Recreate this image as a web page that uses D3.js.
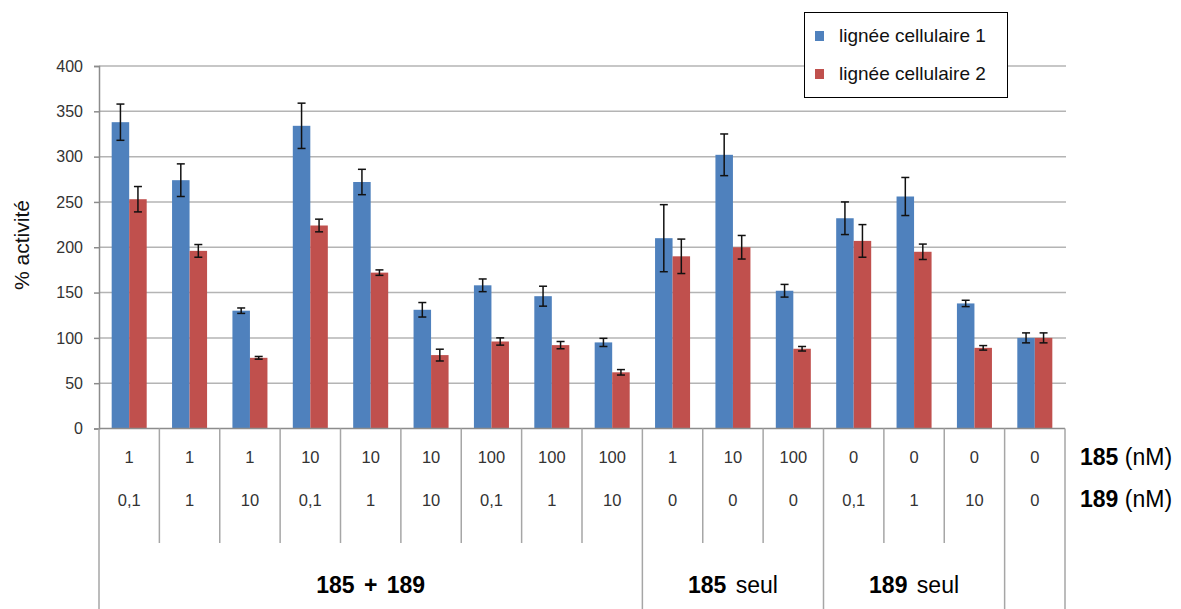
<!DOCTYPE html>
<html>
<head>
<meta charset="utf-8">
<script src="https://cdn.jsdelivr.net/npm/d3@7"></script>
<style>
  body { margin: 0; background: #fff; }
  svg { display: block; font-family: "Liberation Sans", Arial, sans-serif; }
</style>
</head>
<body>
<div id="graph"></div>
<script>
"use strict";

const width = 1181,
      height = 609;

// data
const conc185 = ["1", "1", "1", "10", "10", "10", "100", "100", "100", "1", "10", "100", "0", "0", "0", "0"];
const conc189 = ["0,1", "1", "10", "0,1", "1", "10", "0,1", "1", "10", "0", "0", "0", "0,1", "1", "10", "0"];
const cell1 = [338, 274, 130, 334, 272, 131, 158, 146, 95, 210, 302, 152, 232, 256, 138, 100];
const cell1Err = [20, 18, 3, 25, 14, 8, 7, 11, 4.5, 37, 23, 7, 18, 21, 3.5, 5.5];
const cell2 = [253, 196, 78, 224, 172, 81, 96, 92, 62, 190, 200, 88, 207, 195, 89, 100];
const cell2Err = [14, 7, 1.5, 7, 3, 6.5, 4, 4, 3, 19, 13, 2.5, 18, 8.5, 2.5, 5.5];
const seriesNames = ["lignée cellulaire 1", "lignée cellulaire 2"];
const groupBold = ["185 + 189", "185", "189", ""];
const groupRest = ["", " seul", " seul", ""];
const groupSpans = [9, 3, 3, 1];
const yTicks = [0, 50, 100, 150, 200, 250, 300, 350, 400];

const colors = ["#4F81BD", "#C0504D"];
const gridColor = "#b4b4b4";
const lineColor = "#a6a6a6";

const svg = d3.select("#graph")
    .append("svg")
    .attr("width", width)
    .attr("height", height);

const plotLeft = 99, plotRight = 1065, plotTop = 66, zero = 428.5;

const x0 = d3.scaleBand()
    .domain(d3.range(conc185.length))
    .range([plotLeft, plotRight])
    .paddingInner(0.42)
    .paddingOuter(0.21);

const x1 = d3.scaleBand()
    .domain([0, 1])
    .range([0, x0.bandwidth()]);

const y = d3.scaleLinear()
    .domain([0, 400])
    .range([zero, plotTop]);

// gridlines
svg.append("g")
    .selectAll("line")
    .data(yTicks.filter(d => d > 0))
    .enter()
    .append("line")
    .attr("x1", plotLeft)
    .attr("x2", plotRight + 1)
    .attr("y1", d => y(d))
    .attr("y2", d => y(d))
    .attr("stroke", gridColor)
    .attr("stroke-width", 1.5);

// y axis
const yAxis = svg.append("g")
    .attr("transform", "translate(" + plotLeft + ",0)")
    .call(d3.axisLeft(y).tickValues(yTicks).tickSize(5).tickPadding(11));
yAxis.select(".domain").attr("stroke", "#8c8c8c").attr("stroke-width", 1.5);
yAxis.selectAll(".tick line").attr("stroke", "#8c8c8c").attr("stroke-width", 1.5);
yAxis.selectAll(".tick text")
    .attr("font-size", 16)
    .attr("fill", "#333")
    .attr("font-family", "Liberation Sans, Arial, sans-serif");

svg.append("text")
    .attr("transform", "translate(29,245) rotate(-90)")
    .attr("text-anchor", "middle")
    .attr("font-size", 21)
    .attr("fill", "#111")
    .text("% activité");

// bars
const series = [
    { vals: cell1, errs: cell1Err },
    { vals: cell2, errs: cell2Err }
];

series.forEach(function (s, k) {
    const g = svg.append("g");
    g.selectAll("rect")
        .data(s.vals)
        .enter()
        .append("rect")
        .attr("x", (d, i) => x0(i) + x1(k))
        .attr("y", d => y(d))
        .attr("width", x1.bandwidth())
        .attr("height", d => y(0) - y(d))
        .attr("fill", colors[k]);

    const eb = svg.append("g")
        .attr("stroke", "#111")
        .attr("stroke-width", 1.5);
    s.vals.forEach(function (v, i) {
        const cx = x0(i) + x1(k) + x1.bandwidth() / 2;
        const e = s.errs[i];
        eb.append("line")
            .attr("x1", cx).attr("x2", cx)
            .attr("y1", y(v + e)).attr("y2", y(v - e));
        eb.append("line")
            .attr("x1", cx - 4).attr("x2", cx + 4)
            .attr("y1", y(v + e)).attr("y2", y(v + e));
        eb.append("line")
            .attr("x1", cx - 4).attr("x2", cx + 4)
            .attr("y1", y(v - e)).attr("y2", y(v - e));
    });
});

// category table
const step = x0.step();
const table = svg.append("g");

table.append("line")
    .attr("x1", plotLeft).attr("x2", plotRight)
    .attr("y1", zero).attr("y2", zero)
    .attr("stroke", "#8c8c8c")
    .attr("stroke-width", 1.5);

// group boundaries
let groupEdges = [0];
groupSpans.forEach(function (n) { groupEdges.push(groupEdges[groupEdges.length - 1] + n); });

d3.range(conc185.length + 1).forEach(function (i) {
    const isGroup = groupEdges.indexOf(i) >= 0;
    table.append("line")
        .attr("x1", plotLeft + i * step)
        .attr("x2", plotLeft + i * step)
        .attr("y1", zero)
        .attr("y2", isGroup ? height : 543)
        .attr("stroke", lineColor)
        .attr("stroke-width", 1.5);
});

table.selectAll(".r185")
    .data(conc185)
    .enter()
    .append("text")
    .attr("x", (d, i) => x0(i) + x0.bandwidth() / 2)
    .attr("y", 463)
    .attr("text-anchor", "middle")
    .attr("font-size", 16.5)
    .attr("fill", "#333")
    .text(d => d);

table.selectAll(".r189")
    .data(conc189)
    .enter()
    .append("text")
    .attr("x", (d, i) => x0(i) + x0.bandwidth() / 2)
    .attr("y", 506)
    .attr("text-anchor", "middle")
    .attr("font-size", 16.5)
    .attr("fill", "#333")
    .text(d => d);

groupBold.forEach(function (b, j) {
    const cx = plotLeft + (groupEdges[j] + groupEdges[j + 1]) / 2 * step;
    const t = table.append("text")
        .attr("x", cx)
        .attr("y", 593)
        .attr("text-anchor", "middle")
        .attr("font-size", 23)
        .attr("word-spacing", 3)
        .attr("fill", "#000");
    t.append("tspan").attr("font-weight", "bold").text(b);
    t.append("tspan").text(groupRest[j]);
});

[["185", " (nM)", 465], ["189", " (nM)", 507]].forEach(function (r) {
    const t = svg.append("text")
        .attr("x", 1080)
        .attr("y", r[2])
        .attr("font-size", 23)
        .attr("fill", "#000");
    t.append("tspan").attr("font-weight", "bold").text(r[0]);
    t.append("tspan").text(r[1]);
});

// legend
const legend = svg.append("g");
legend.append("rect")
    .attr("x", 804.5).attr("y", 12.5)
    .attr("width", 203).attr("height", 85)
    .attr("fill", "#fff")
    .attr("stroke", "#000")
    .attr("stroke-width", 1);

seriesNames.forEach(function (n, k) {
    const ly = 36 + k * 38;
    legend.append("rect")
        .attr("x", 815).attr("y", ly - 5)
        .attr("width", 9).attr("height", 10)
        .attr("fill", colors[k]);
    legend.append("text")
        .attr("x", 839).attr("y", ly + 6)
        .attr("font-size", 19)
        .attr("fill", "#111")
        .text(n);
});
</script>
</body>
</html>
